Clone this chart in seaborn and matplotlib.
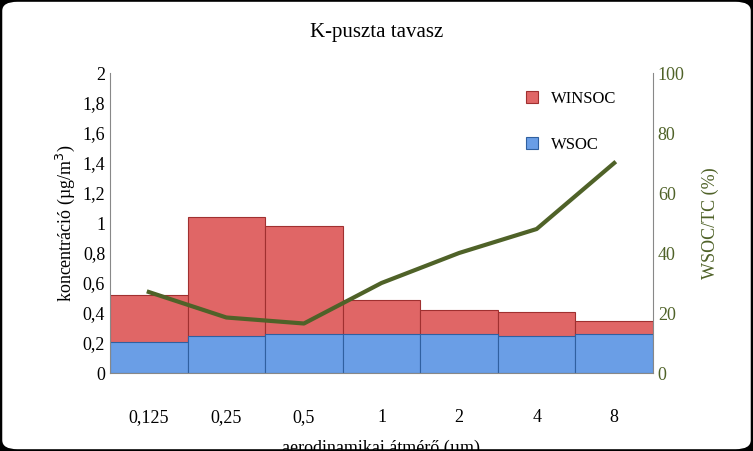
import matplotlib
matplotlib.use("Agg")
import matplotlib.pyplot as plt
import seaborn as sns
import pandas as pd
from matplotlib.patches import FancyBboxPatch

plt.rcParams["font.family"] = "Liberation Serif"

categories = ["0,125", "0,25", "0,5", "1", "2", "4", "8"]
wsoc = [0.21, 0.25, 0.26, 0.26, 0.26, 0.25, 0.26]
total = [0.52, 1.04, 0.98, 0.49, 0.42, 0.41, 0.35]
ratio = [27, 18.5, 16.5, 30, 40, 48, 70]

df = pd.DataFrame({"size": categories, "wsoc": wsoc, "total": total, "ratio": ratio})

fig = plt.figure(figsize=(7.53, 4.51), dpi=100)
fig.patch.set_facecolor("black")
fig.patches.append(FancyBboxPatch((0.003, 0.004), 0.994, 0.992, boxstyle="round,pad=0,rounding_size=0.02",
                                  transform=fig.transFigure, facecolor="white", edgecolor="none", zorder=-1))
ax = fig.add_axes([110 / 753, 1 - 373 / 451, 543 / 753, 300 / 451])
ax.set_facecolor("white")

sns.barplot(data=df, x="size", y="total", color="#e06666", width=1.0, edgecolor="#a03030",
            linewidth=0.8, ax=ax, label="WINSOC", saturation=1)
sns.barplot(data=df, x="size", y="wsoc", color="#6a9ee6", width=1.0, edgecolor="#3060a0",
            linewidth=0.8, ax=ax, label="WSOC", saturation=1)

ax.set_ylim(0, 2)
ax.set_yticks([i * 0.2 for i in range(11)])
ax.set_yticklabels(["0", "0,2", "0,4", "0,6", "0,8", "1", "1,2", "1,4", "1,6", "1,8", "2"])
ax.set_xlim(-0.5, 6.5)
ax.set_xlabel("aerodinamikai átmérő (µm)", fontsize=13, labelpad=10)
ax.set_ylabel("koncentráció (µg/m$^3$)", fontsize=13)
ax.tick_params(labelsize=13, length=0)
ax.tick_params(axis="x", pad=26)
for s in ["top", "right"]:
    ax.spines[s].set_visible(False)
ax.spines["left"].set_color("#888888")
ax.spines["bottom"].set_color("#888888")

ax2 = ax.twinx()
sns.lineplot(x=list(range(7)), y=df["ratio"], color="#4f6228", linewidth=3, ax=ax2)
ax2.set_ylim(0, 100)
ax2.set_yticks(range(0, 101, 20))
ax2.set_ylabel("WSOC/TC (%)", fontsize=13, color="#4f6228", labelpad=12)
ax2.tick_params(labelsize=13, length=0, colors="#4f6228")
for s in ["top", "left", "bottom"]:
    ax2.spines[s].set_visible(False)
ax2.spines["right"].set_color("#888888")

handles, labels = ax.get_legend_handles_labels()
ax.legend(handles[::-1] if labels[0] == "WSOC" else handles, ["WINSOC", "WSOC"],
          loc="upper right", frameon=False, fontsize=12, labelspacing=1.8, handlelength=0.7,
          handleheight=0.7, bbox_to_anchor=(0.96, 0.99))

fig.suptitle("K-puszta tavasz", fontsize=15, y=0.95)
fig.savefig("out.png", dpi=100, facecolor=fig.get_facecolor())
